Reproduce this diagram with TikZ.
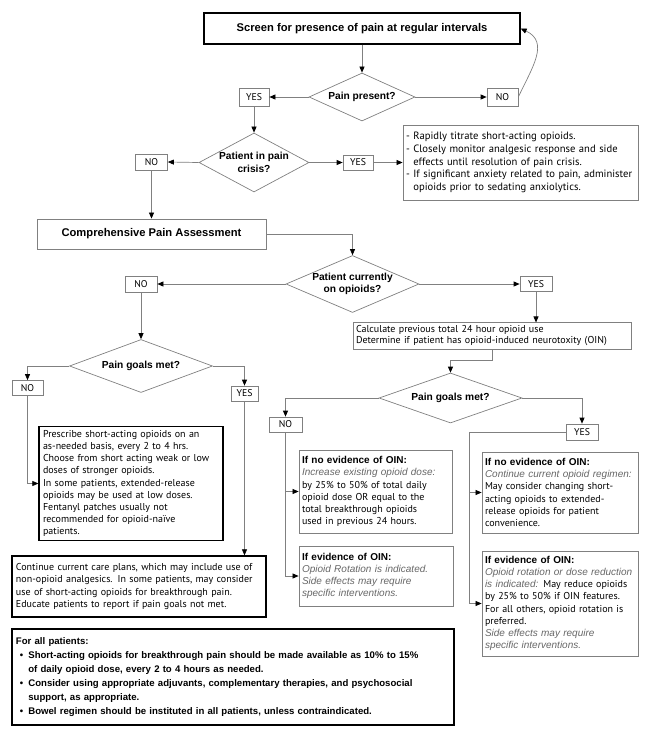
\documentclass[tikz,border=0pt]{standalone}
\usepackage{fontspec}
\setmainfont{PT Sans}
\newfontfamily\arial{Liberation Sans}
\usetikzlibrary{shapes.geometric,arrows.meta}
\definecolor{linegray}{gray}{0.5}
\definecolor{textgray}{gray}{0.4}
\newcommand{\oinhead}[1]{{\arial\bfseries #1}}
\newcommand{\grayit}[1]{{\arial\itshape\color{textgray}#1}}
\newcommand{\bul}{\hspace*{4pt}\textbullet\hspace{5pt}}
\newcommand{\bulind}{\hspace*{4pt}\hphantom{\textbullet}\hspace{5pt}}

\begin{document}
\begin{tikzpicture}[x=1pt,y=-1pt,
  conn/.style={draw=linegray, line width=0.7pt, -{Triangle[length=6pt,width=5pt,color=black]}},
  yn/.style={draw=linegray, line width=0.7pt, inner sep=0pt, font=\fontsize{9.8}{11}\selectfont},
  dec/.style={diamond, draw=linegray, line width=0.7pt, inner sep=0pt},
  dtext/.style={align=center, font=\arial\bfseries\fontsize{10.2}{12.5}\selectfont},
  tbox/.style={draw=black, line width=1.3pt, inner sep=4pt, align=left, font=\fontsize{10}{12.2}\selectfont},
  gbox/.style={draw=linegray, line width=0.8pt, inner sep=3pt, align=left, font=\fontsize{10}{12.2}\selectfont}]

\useasboundingbox (0,0) rectangle (653,741);

% headings
\node[tbox, minimum width=316pt, minimum height=31pt, font=\arial\bfseries\fontsize{11.2}{13}\selectfont] (screen) at (362,28.5) {Screen for presence of pain at regular intervals};
\node[gbox, minimum width=229pt, minimum height=30pt, font=\arial\bfseries\fontsize{11.2}{13}\selectfont] (assess) at (151.5,234) {Comprehensive Pain Assessment};

% decisions
\node[dec, minimum width=106pt, minimum height=48pt, label={[dtext]center:Pain present?}] (present) at (362,97) {};
\node[dec, minimum width=110pt, minimum height=59pt, label={[dtext]center:{Patient in pain\\crisis?}}] (crisis) at (254,162.5) {};
\node[dec, minimum width=133pt, minimum height=57pt, label={[dtext]center:{Patient currently\\on opioids?}}] (onopioids) at (352.5,284) {};
\node[dec, minimum width=143pt, minimum height=53pt, label={[dtext]center:Pain goals met?}] (goalsA) at (141,366) {};
\node[dec, minimum width=143pt, minimum height=50pt, label={[dtext]center:Pain goals met?}] (goalsB) at (450.5,398) {};

% yes / no labels
\foreach \nm/\txt/\cx/\cy/\w/\h in {yesA/YES/254/97/30/18, noA/NO/502.5/97/31/18,
    noB/NO/151.5/162/32/16, yesB/YES/358/162.5/30/15,
    noC/NO/141/284/32/16, yesC/YES/536/284/32/15,
    noD/NO/27.5/388/31/15, yesD/YES/244.5/393.5/27/15,
    noE/NO/285.5/424.5/33/15, yesE/YES/582/432/32/16}
  \node[yn, minimum width=\w pt, minimum height=\h pt] (\nm) at (\cx,\cy) {\txt};

% text boxes
\node[gbox, text width=229pt, minimum height=75pt, font=\fontsize{10.6}{12.6}\selectfont] (crisisplan) at (520.5,162.5) {%
- Rapidly titrate short-acting opioids.\\
- Closely monitor analgesic response and side\\
\hphantom{- }effects until resolution of pain crisis.\\
- If significant anxiety related to pain, administer\\
\hphantom{- }opioids prior to sedating anxiolytics.};

\node[gbox, text width=272pt, minimum height=26pt, font=\fontsize{10}{11}\selectfont] (calc) at (492,336) {%
Calculate previous total 24 hour opioid use\\
Determine if patient has opioid-induced neurotoxity (OIN)};

\node[tbox, text width=176pt, minimum height=113pt] (prescribe) at (131,483.5) {%
Prescribe short-acting opioids on an\\
as-needed basis, every 2 to 4 hrs.\\
Choose from short acting weak or low\\
doses of stronger opioids.\\
In some patients, extended-release\\
opioids may be used at low doses.\\
Fentanyl patches usually not\\
recommended for opioid-naïve\\
patients.};

\node[tbox, text width=246pt, minimum height=61pt] (careplan) at (139,586.5) {%
Continue current care plans, which may include use of\\
non-opioid analgesics. In some patients, may consider\\
use of short-acting opioids for breakthrough pain.\\
Educate patients to report if pain goals not met.};

\node[gbox, text width=147pt, minimum height=83pt] (noOINa) at (375.5,491.5) {%
\oinhead{If no evidence of OIN:}\\
\grayit{Increase existing opioid dose:}\\
by 25\% to 50\% of total daily\\
opioid dose OR equal to the\\
total breakthrough opioids\\
used in previous 24 hours.};

\node[gbox, text width=148pt, minimum height=60pt] (OINa) at (376,576) {%
\oinhead{If evidence of OIN:}\\
\grayit{Opioid Rotation is indicated.}\\
\grayit{Side effects may require}\\
\grayit{specific interventions.}};

\node[gbox, text width=150pt, minimum height=81pt] (noOINb) at (560,492.5) {%
\oinhead{If no evidence of OIN:}\\
\grayit{Continue current opioid regimen:}\\
May consider changing short-\\
acting opioids to extended-\\
release opioids for patient\\
convenience.};

\node[gbox, text width=150pt, minimum height=105pt] (OINb) at (560,603.5) {%
\oinhead{If evidence of OIN:}\\
\grayit{Opioid rotation or dose reduction}\\
\grayit{is indicated:} May reduce opioids\\
by 25\% to 50\% if OIN features.\\
For all others, opioid rotation is\\
preferred.\\
\grayit{Side effects may require}\\
\grayit{specific interventions.}};

\node[tbox, text width=434pt, minimum height=96pt, font=\arial\bfseries\fontsize{9.6}{14}\selectfont] (allpatients) at (233,677) {%
For all patients:\\
\bul Short-acting opioids for breakthrough pain should be made available as 10\% to 15\%\\
\bulind of daily opioid dose, every 2 to 4 hours as needed.\\
\bul Consider using appropriate adjuvants, complementary therapies, and psychosocial\\
\bulind support, as appropriate.\\
\bul Bowel regimen should be instituted in all patients, unless contraindicated.};

% lines
\draw[conn] (screen.south) -- (present.north);
\draw[conn] (present.west) -- (yesA.east);
\draw[conn] (present.east) -- (noA.west);
\draw[conn] (noA.east) to[out=65,in=-25,looseness=1.2] (screen.east);
\draw[conn] (yesA.south) -- (crisis.north);
\draw[conn] (crisis.west) -- (noB.east);
\draw[conn] (crisis.east) -- (yesB.west);
\draw[conn] (yesB.east) -- (crisisplan.west);
\draw[conn] (noB.south) -- (assess.north);
\draw[conn] (assess.east) -| (onopioids.north);
\draw[conn] (onopioids.west) -- (noC.east);
\draw[conn] (onopioids.east) -- (yesC.west);
\draw[conn] (yesC.south) -- (yesC.south |- calc.north);
\draw[conn] (calc.south) -- ++(0,11) -| (goalsB.north);

%level 2
\draw[conn] (noC.south) -- (goalsA.north);
\draw[conn] (goalsA.west) -| (noD.north);
\draw[conn] (goalsA.east) -| (yesD.north);
\draw[conn] (noD.south) |- (prescribe.west);
\draw[conn] (yesD.south) -- (yesD.south |- careplan.north);

\draw[conn] (goalsB.west) -| (noE.north);
\draw[conn] (goalsB.east) -| (yesE.north);
\draw[conn] (noE.south) |- (noOINa.west);
\draw[conn] (noE.south) |- (OINa.west);
\coordinate (yesbend) at (469,432);
\draw[draw=linegray, line width=0.7pt] (yesE.west) -- (yesbend);
\draw[conn] (yesbend) |- (noOINb.west);
\draw[conn] (yesbend) |- (OINb.west);

\end{tikzpicture}
\end{document}
